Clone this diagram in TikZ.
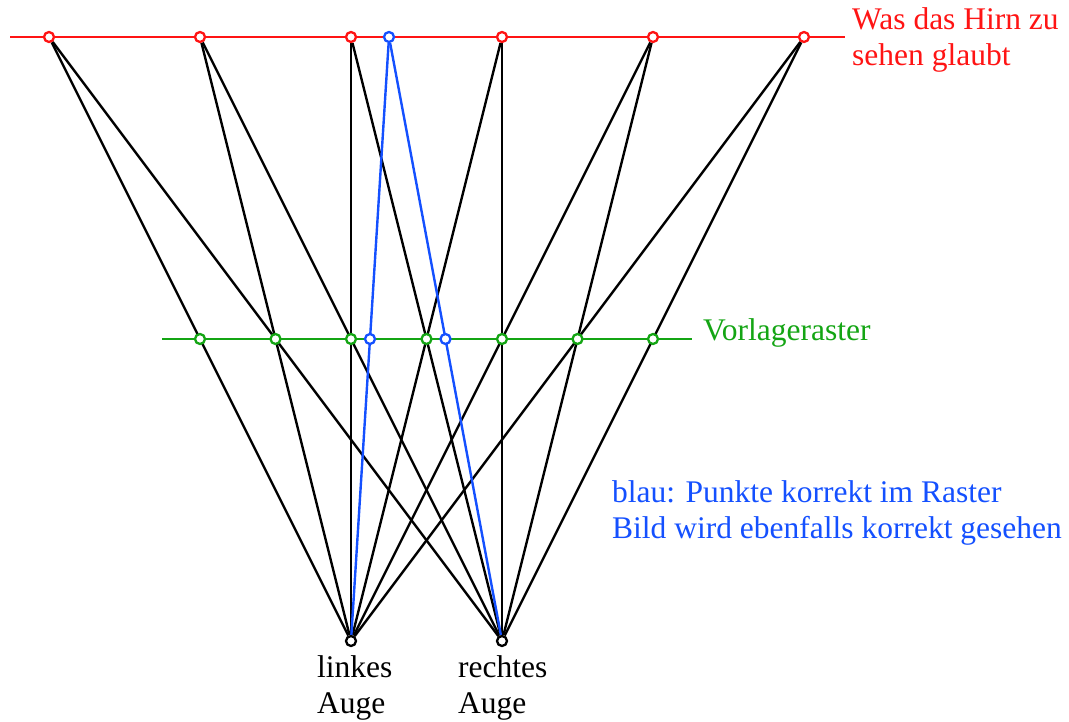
\documentclass[tikz,border=0pt]{standalone}
\usepackage{fontspec}
\setmainfont{Liberation Serif}
\pgfdeclarelayer{background}
\pgfsetlayers{background,main}
\definecolor{myred}{RGB}{255,20,20}
\definecolor{mygreen}{RGB}{20,165,20}
\definecolor{myblue}{RGB}{20,80,255}
\tikzset{
  pt/.style={circle, draw=#1, fill=white, line width=2.3pt, minimum size=10pt, inner sep=0pt},
  ray/.style={line width=2.4pt, draw=black},
  lbl/.style={anchor=base west, inner sep=0pt, font=\fontsize{31.5}{36}\selectfont, align=left},
}
\begin{document}
\begin{tikzpicture}[x=1pt,y=-1pt]
\useasboundingbox (0,0) rectangle (1069,722);
% top points
\foreach \n/\x in {t1/49,t2/200,t3/351,t4/502,t5/653,t6/804}
  \node[pt=myred] (\n) at (\x,37) {};
\node[pt=myblue] (tb) at (389,37) {};
% eyes
\node[pt=black] (L) at (351,641) {};
\node[pt=black] (R) at (502,641) {};
% line ends
\coordinate (rl) at (10,37);
\coordinate (rr) at (845,37);
\coordinate (gl) at (162,339);
\coordinate (gr) at (692,339);
\begin{pgfonlayer}{background}
  \draw[line width=2.4pt, myred] (rl) -- (rr);
  \draw[line width=2.4pt, mygreen] (gl) -- (gr);
  \foreach \n in {t1,t2,t3,t4,t5,t6}{
    \draw[ray] (\n) -- (L);
    \draw[ray] (\n) -- (R);
  }
  \draw[ray, draw=myblue] (tb) -- (L);
  \draw[ray, draw=myblue] (tb) -- (R);
\end{pgfonlayer}
% grid points
\foreach \n/\x in {g1/200,g2/275.5,g3/351,g4/426.5,g5/502,g6/577.5,g7/653}
  \node[pt=mygreen] (\n) at (\x,339) {};
\node[pt=myblue] (gb1) at (370,339) {};
\node[pt=myblue] (gb2) at (445.5,339) {};
% labels
\node[lbl, text=myred] (hirn) at (852,66) {Was das Hirn zu\\sehen glaubt};
\node[lbl, text=mygreen] (vorl) at (703,341) {Vorlageraster};
\node[lbl, text=myblue] (blau) at (612,538) {blau: Punkte korrekt im Raster\\Bild wird ebenfalls korrekt gesehen};
\node[lbl] (ll) at (317,713) {linkes\\Auge};
\node[lbl] (rl2) at (458,713) {rechtes\\Auge};
\end{tikzpicture}
\end{document}
